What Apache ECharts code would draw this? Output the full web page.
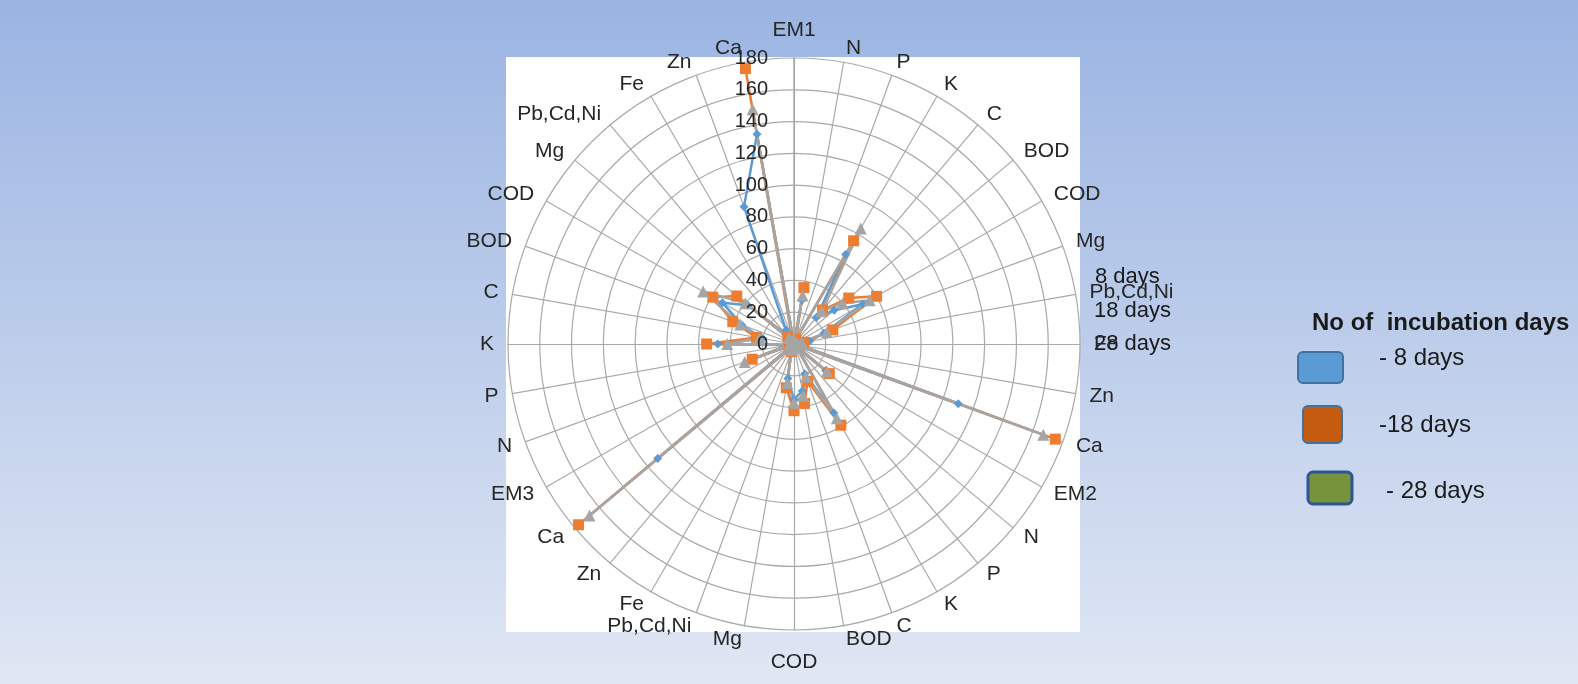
<!DOCTYPE html>
<html lang="en">
<head>
<meta charset="UTF-8">
<title>No of incubation days</title>
<script src="https://cdn.jsdelivr.net/npm/echarts/dist/echarts.min.js"></script>
<style>
  html, body { margin: 0; padding: 0; }
  #chart { width: 1578px; height: 684px; }
</style>
</head>
<body>
<div id="chart"></div>
<script>
var categories = ['EM1', 'N', 'P', 'K', 'C', 'BOD', 'COD', 'Mg', 'Pb,Cd,Ni', 'Fe', 'Zn', 'Ca',
                  'EM2', 'N', 'P', 'K', 'C', 'BOD', 'COD', 'Mg', 'Pb,Cd,Ni', 'Fe', 'Zn', 'Ca',
                  'EM3', 'N', 'P', 'K', 'C', 'BOD', 'COD', 'Mg', 'Pb,Cd,Ni', 'Fe', 'Zn', 'Ca'];
var days8  = [0, 28, 2, 65, 22, 33, 50, 20, 10, 3, 4, 110,
              0, 26, 3, 50, 20, 30, 35, 22, 6, 2, 3, 112,
              0, 28, 4, 48, 20, 35, 52, 38, 8, 10, 92, 134];
var days18 = [0, 36, 3, 75, 28, 45, 60, 26, 6, 2, 3, 175,
              0, 29, 2, 59, 25, 38, 42, 28, 5, 2, 3, 177,
              0, 28, 3, 55, 24, 41, 59, 47, 6, 3, 3, 176];
var days28 = [0, 31, 2, 84, 27, 40, 55, 22, 5, 2, 3, 167,
              0, 27, 2, 54, 22, 33, 37, 25, 4, 2, 3, 168,
              0, 33, 3, 42, 22, 36, 66, 40, 5, 2, 2, 150];
var seriesNames = ['8 days', '18 days', '28 days'];
var legendLabels = ['- 8 days', '-18 days', '- 28 days'];
var radiusMax = 180;
var radiusStep = 20;

var chart = echarts.init(document.getElementById('chart'));
var font = "'Liberation Sans', Arial, sans-serif";
var gridColor = '#a9a9a9';
var center = [794, 344];
var radius = 286;

// echarts radar runs counter-clockwise; keep the first axis on top and
// walk the rest backwards so the categories go round clockwise
var order = [0];
for (var i = categories.length - 1; i > 0; i--) order.push(i);
function reorder(arr) { return order.map(function (k) { return arr[k]; }); }

var half = categories.length / 2;
var indicators = order.map(function (k) {
    // names straight above / below the centre sit a bit further out
    var pos = k === 0 ? 'top' : (k === half ? 'bottom' : '');
    return { name: categories[k], min: 0, max: radiusMax, pos: pos };
});

function radarSeries(name, vals, color, symbol, size) {
    return {
        name: name,
        type: 'radar',
        data: [{ name: name, value: reorder(vals) }],
        symbol: symbol,
        symbolSize: size,
        lineStyle: { color: color, width: 2.5 },
        itemStyle: { color: color },
        animation: false
    };
}

var txt = function (text, left, top, size, weight) {
    return {
        type: 'text', left: left, top: top,
        style: { text: text, fontSize: size, fontWeight: weight || 'normal', fontFamily: font, fill: '#1a1a1a' }
    };
};

var option = {
    animation: false,
    radar: {
        center: center,
        radius: radius,
        startAngle: 90,
        shape: 'circle',
        splitNumber: radiusMax / radiusStep,
        indicator: indicators,
        nameGap: 14,
        axisName: {
            color: '#262626', fontSize: 21, fontFamily: font,
            formatter: function (name, ind) {
                return ind && ind.pos ? '{' + ind.pos + '|' + name + '}' : name;
            },
            rich: {
                top: { fontSize: 21, fontFamily: font, color: '#262626', padding: [0, 0, 3, 0] },
                bottom: { fontSize: 21, fontFamily: font, color: '#262626', padding: [8, 0, 0, 0] }
            }
        },
        axisLine: { lineStyle: { color: gridColor, width: 1.2 } },
        splitLine: { lineStyle: { color: gridColor, width: 1.2 } },
        splitArea: { show: false }
    },
    // polar only carries the value labels on the upward axis
    polar: { center: center, radius: radius },
    angleAxis: {
        type: 'value', min: 0, max: 360, startAngle: 90,
        axisLine: { show: false }, axisTick: { show: false },
        axisLabel: { show: false }, splitLine: { show: false }
    },
    radiusAxis: {
        min: 0,
        max: radiusMax,
        interval: radiusStep,
        axisLine: { show: true, lineStyle: { color: gridColor, width: 1.5 } },
        axisTick: { show: false },
        splitLine: { show: false },
        axisLabel: { fontSize: 20, fontFamily: font, color: '#262626', margin: 26 },
        z: 5
    },
    graphic: [
        {
            type: 'rect', z: -100, silent: true,
            shape: { x: 0, y: 0, width: 1578, height: 684 },
            style: {
                fill: new echarts.graphic.LinearGradient(0, 0, 0, 1, [
                    { offset: 0, color: '#9ab4e2' },
                    { offset: 1, color: '#e0e7f4' }
                ])
            }
        },
        {
            type: 'rect', z: -90, silent: true,
            shape: { x: 506, y: 57, width: 574, height: 575 },
            style: { fill: '#ffffff' }
        },
        // series name labels by the right edge of the plot
        txt(seriesNames[0], 1095, 266, 22),
        txt(seriesNames[1], 1094, 300, 22),
        txt(seriesNames[2], 1094, 333, 22),
        // legend
        txt('No of  incubation days', 1312, 311, 24, 'bold'),
        { type: 'rect', shape: { x: 1298, y: 352, width: 45, height: 31, r: 5 }, style: { fill: '#5b9bd5', stroke: '#41719c', lineWidth: 2 } },
        { type: 'rect', shape: { x: 1303, y: 406, width: 39, height: 37, r: 5 }, style: { fill: '#c55a11', stroke: '#41719c', lineWidth: 2 } },
        { type: 'rect', shape: { x: 1308, y: 472, width: 44, height: 32, r: 5 }, style: { fill: '#77933c', stroke: '#2f5597', lineWidth: 3 } },
        txt(legendLabels[0], 1379, 346, 24),
        txt(legendLabels[1], 1379, 413, 24),
        txt(legendLabels[2], 1386, 479, 24)
    ],
    series: [
        radarSeries(seriesNames[0], days8, '#5b9bd5', 'diamond', 9),
        radarSeries(seriesNames[1], days18, '#ed7d31', 'rect', 11),
        radarSeries(seriesNames[2], days28, '#a5a5a5', 'triangle', 12)
    ]
};

chart.setOption(option);
</script>
</body>
</html>
